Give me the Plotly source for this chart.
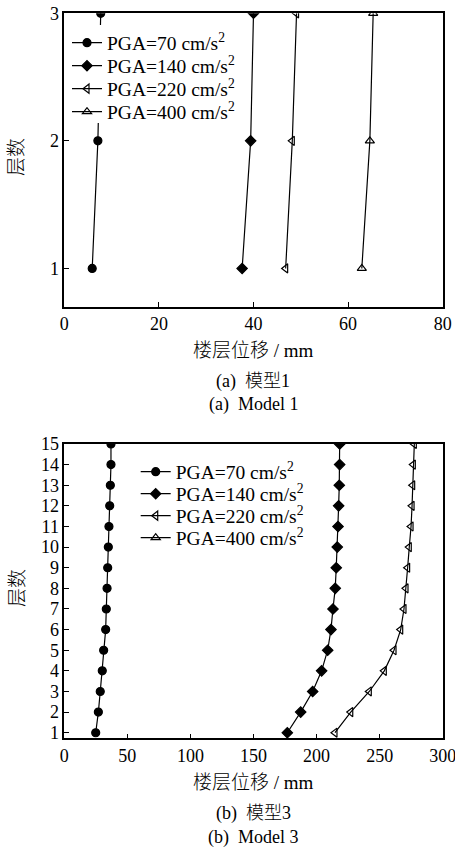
import plotly.graph_objects as go

W, H = 455, 852

# Model 1: storey displacement (mm) for each storey
floors_m1 = [1, 2, 3]
m1_pga70 = [5.9, 7.1, 7.7]
m1_pga140 = [37.6, 39.4, 40.0]
m1_pga220 = [46.8, 48.2, 49.1]
m1_pga400 = [62.9, 64.6, 65.3]

# Model 3: storey displacement (mm) for each storey
floors_m3 = list(range(1, 16))
m3_pga70 = [24.9, 27.0, 28.5, 30.1, 31.2, 32.8, 33.3, 33.9, 34.4, 34.9, 35.4, 36.0, 36.5, 37.0, 37.0]
m3_pga140 = [176.8, 187.4, 196.9, 204.0, 208.8, 211.4, 213.0, 214.8, 215.6, 216.4, 217.0, 217.5, 218.0, 218.3, 218.3]
m3_pga220 = [214.6, 227.1, 241.8, 253.7, 261.4, 266.7, 269.3, 270.9, 272.2, 273.5, 274.9, 275.7, 276.2, 276.7, 277.5]
m3_pga400 = [None]  # beyond the 0-300 mm axis range, legend entry only

series_names = ["PGA=70 cm/s<sup>2</sup>", "PGA=140 cm/s<sup>2</sup>",
                "PGA=220 cm/s<sup>2</sup>", "PGA=400 cm/s<sup>2</sup>"]
symbols = ["circle", "diamond", "triangle-left-open", "triangle-up-open"]
sizes = [8, 8, 8, 8]

FONT = '"Liberation Serif", "Times New Roman", "Noto Sans CJK SC", serif'


def px(x):
    return x / W


def py(y):
    return 1 - y / H


fig = go.Figure()

m1 = [m1_pga70, m1_pga140, m1_pga220, m1_pga400]
m3 = [m3_pga70, m3_pga140, m3_pga220, m3_pga400]

# one legend per entry so that each row sits at its own height
leg_top_rows = [43, 66, 89, 112]
leg_bot_rows = [472, 494, 516, 538]


def legend_box(x_left, y_row):
    return dict(x=px(x_left), y=py(y_row), xanchor="left", yanchor="middle",
                bgcolor="rgba(0,0,0,0)", borderwidth=0,
                font=dict(family=FONT, size=19.5, color="black"),
                itemsizing="trace")


legends = {}
for i, xs in enumerate(m1):
    name = "legend" if i == 0 else f"legend{i + 1}"
    legends[name] = legend_box(67, leg_top_rows[i])
    fig.add_trace(go.Scatter(
        x=xs, y=floors_m1, mode="lines+markers", name=series_names[i],
        line=dict(color="black", width=1.2),
        marker=dict(symbol=symbols[i], size=sizes[i], color="black",
                    line=dict(color="black", width=1.2)),
        xaxis="x", yaxis="y", legend=name,
    ))

for i, xs in enumerate(m3):
    name = f"legend{i + 5}"
    legends[name] = legend_box(135.7, leg_bot_rows[i])
    fig.add_trace(go.Scatter(
        x=xs, y=floors_m3[:len(xs)], mode="lines+markers", name=series_names[i],
        line=dict(color="black", width=1.2),
        marker=dict(symbol=symbols[i], size=sizes[i], color="black",
                    line=dict(color="black", width=1.2)),
        xaxis="x2", yaxis="y2", legend=name,
    ))

axis_common = dict(
    showgrid=False, zeroline=False, showline=True, mirror=True,
    linecolor="black", linewidth=1.5, ticks="inside", ticklen=5,
    tickwidth=1.2, tickcolor="black", automargin=False,
    ticklabeloverflow="allow",
    tickfont=dict(family=FONT, size=18, color="black"),
)

fig.update_layout(
    width=W, height=H,
    margin=dict(l=0, r=0, t=0, b=0),
    paper_bgcolor="white", plot_bgcolor="white",
    font=dict(family=FONT, color="black"),
    xaxis=dict(domain=[px(64.3), px(442.7)], range=[0, 80], tickvals=[0, 20, 40, 60, 80],
               anchor="y", **axis_common),
    yaxis=dict(domain=[py(306.7), py(13.3)], range=[0.7, 3], tickvals=[1, 2, 3],
               anchor="x", **axis_common),
    xaxis2=dict(domain=[px(64.3), px(442.7)], range=[0, 300], tickvals=[0, 50, 100, 150, 200, 250, 300],
                anchor="y2", **axis_common),
    yaxis2=dict(domain=[py(738.3), py(444)], range=[0.73, 15], tickvals=floors_m3,
                anchor="x2", **axis_common),
    showlegend=True,
    **legends,
)

# white panel behind the legend rows of the upper chart
fig.add_shape(type="rect", xref="paper", yref="paper", layer="above",
              x0=px(74), x1=px(242), y0=py(123), y1=py(25),
              fillcolor="white", line=dict(width=0))

texts = [
    ("楼层位移 / mm", 253, 350, 19, 0),
    ("(a)  模型1", 253, 382, 18, 0),
    ("(a)  Model 1", 253, 405, 18, 0),
    ("楼层位移 / mm", 253, 782, 19, 0),
    ("(b)  模型3", 253, 813, 18, 0),
    ("(b)  Model 3", 253, 837, 18, 0),
    ("层数", 17, 157, 19, -90),
    ("层数", 17, 588, 19, -90),
]
for t, x, y, s, ang in texts:
    fig.add_annotation(text=t, x=px(x), y=py(y), xref="paper", yref="paper",
                       xanchor="center", yanchor="middle", showarrow=False,
                       textangle=ang,
                       font=dict(family=FONT, size=s, color="black", weight=300))

fig.write_html("out.html")
